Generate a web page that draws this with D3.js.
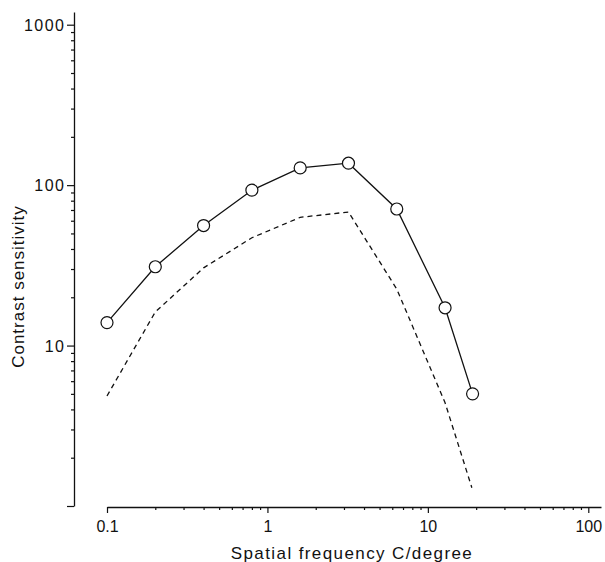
<!DOCTYPE html>
<html>
<head>
<meta charset="utf-8">
<script src="https://cdn.jsdelivr.net/npm/d3@7"></script>
<style>
  html, body { margin: 0; padding: 0; background: #fff; }
  svg { display: block; }
  text { font-family: "Liberation Sans", Arial, Helvetica, sans-serif; fill: #111; }
</style>
</head>
<body>
<svg id="chart" width="605" height="562"></svg>
<script>
// Contrast sensitivity vs spatial frequency
const freq = [0.1, 0.2, 0.4, 0.8, 1.6, 3.2, 6.4, 12.8, 19];
const sensitivity = [13.9, 31, 56, 93, 128, 137, 71, 17.2, 5.0];
const dashedFreq = [0.1, 0.2, 0.4, 0.8, 1.6, 3.2, 6.4, 12.8, 18.8];
const dashedSensitivity = [4.85, 16.2, 30.5, 47, 63, 68, 22.5, 4.4, 1.3];

const xMajor = [0.1, 1, 10, 100];
const xTickLabels = ["0.1", "1", "10", "100"];
const yMajor = [1, 10, 100, 1000];
const yTickLabels = ["", "10", "100", "1000"];

const xTitle = "Spatial frequency C/degree";
const yTitle = "Contrast sensitivity";

const svg = d3.select("#chart");
const ink = "#111";

const x = d3.scaleLog().domain([0.1, 120]).range([107, 601]);
const y = d3.scaleLog().domain([1, 1200]).range([506, 12]);

// every decade step (1..9 x 10^k) inside the domain
function logSteps(lo, hi) {
  const out = [];
  for (let e = Math.floor(Math.log10(lo)); e <= Math.ceil(Math.log10(hi)); e++) {
    for (let m = 1; m <= 9; m++) {
      const v = +(m * Math.pow(10, e)).toPrecision(6);
      if (v >= lo - 1e-9 && v <= hi + 1e-9) out.push(v);
    }
  }
  return out;
}
const isMajor = (list, v) => list.some(m => Math.abs(m - v) / m < 1e-6);

// y axis
const yAxis = d3.axisLeft(y)
  .tickValues(logSteps(1, 1000))
  .tickSizeOuter(0)
  .tickFormat(d => {
    const i = yMajor.findIndex(m => Math.abs(m - d) / m < 1e-6);
    return i >= 0 ? yTickLabels[i] : "";
  });
const gy = svg.append("g").attr("transform", "translate(74,0)").call(yAxis);
gy.select(".domain").attr("stroke", ink).attr("stroke-width", 1.3);
gy.selectAll(".tick line")
  .attr("stroke", ink).attr("stroke-width", 1.2)
  .attr("x2", d => isMajor(yMajor, d) ? -7 : -3);
gy.selectAll(".tick text")
  .attr("x", -8.5).attr("dy", "0.36em")
  .style("font-size", "16px").style("letter-spacing", "1.5px")
  .attr("fill", ink);

// x axis
const xAxis = d3.axisBottom(x)
  .tickValues(logSteps(0.1, 100))
  .tickSizeOuter(0)
  .tickFormat(d => {
    const i = xMajor.findIndex(m => Math.abs(m - d) / m < 1e-6);
    return i >= 0 ? xTickLabels[i] : "";
  });
const gx = svg.append("g").attr("transform", "translate(0,507)").call(xAxis);
gx.select(".domain").attr("stroke", ink).attr("stroke-width", 1.3);
gx.selectAll(".tick line")
  .attr("stroke", ink).attr("stroke-width", 1.2)
  .attr("y2", d => isMajor(xMajor, d) ? 6 : 3);
gx.selectAll(".tick text")
  .attr("y", 24.5).attr("dy", 0)
  .style("font-size", "16px")
  .attr("fill", ink);

// axis titles
svg.append("text")
  .attr("x", 352).attr("y", 559)
  .attr("text-anchor", "middle")
  .style("font-size", "17px").style("letter-spacing", "1.4px")
  .text(xTitle);

svg.append("text")
  .attr("transform", "translate(24,286.5) rotate(-90)")
  .attr("text-anchor", "middle")
  .style("font-size", "17px").style("letter-spacing", "1px")
  .text(yTitle);

const line = d3.line().x(d => x(d[0])).y(d => y(d[1]));

// dashed curve
svg.append("path")
  .datum(d3.zip(dashedFreq, dashedSensitivity))
  .attr("d", line)
  .attr("fill", "none")
  .attr("stroke", ink)
  .attr("stroke-width", 1.3)
  .attr("stroke-dasharray", "5,4");

// solid curve with open circles
const pts = d3.zip(freq, sensitivity);
svg.append("path")
  .datum(pts)
  .attr("d", line)
  .attr("fill", "none")
  .attr("stroke", ink)
  .attr("stroke-width", 1.3);

svg.append("g").selectAll("circle")
  .data(pts)
  .join("circle")
  .attr("cx", d => x(d[0]))
  .attr("cy", d => y(d[1]))
  .attr("r", 6)
  .attr("fill", "#fff")
  .attr("stroke", ink)
  .attr("stroke-width", 1.2);
</script>
</body>
</html>
